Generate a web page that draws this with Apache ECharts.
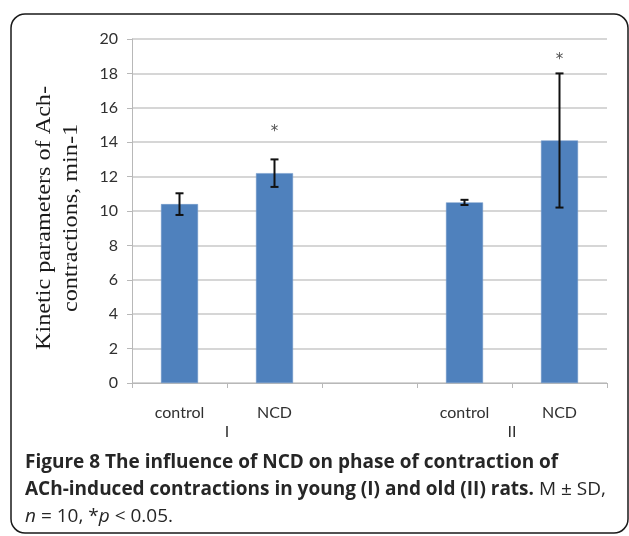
<!DOCTYPE html>
<html>
<head>
<meta charset="utf-8">
<script src="https://cdn.jsdelivr.net/npm/echarts@6/dist/echarts.min.js"></script>
<style>html,body{margin:0;padding:0;background:#fff;}#c{width:629px;height:536px;}</style>
</head>
<body>
<div id="c"></div>
<script>
const categories = ['control', 'NCD', '', 'control', 'NCD'];
const groupLabels = ['', 'I', '', '', 'II', ''];
const means = [10.4, 12.2, null, 10.5, 14.1];
const sd = [0.63, 0.8, null, 0.15, 3.9];
const starValues = [null, 14.6, null, null, 18.8];
const yTicks = [0, 2, 4, 6, 8, 10, 12, 14, 16, 18, 20];

const errData = means.map((m, i) => m == null ? null : [i, m - sd[i], m + sd[i]]).filter(d => d);
const starData = starValues.map((v, i) => v == null ? null : [i, v]).filter(d => d);

const chart = echarts.init(document.getElementById('c'));
const tickFont = 'Lato, "Open Sans", sans-serif';
chart.setOption({
  animation: false,
  grid: { left: 132, right: 22, top: 39, bottom: 153 },
  xAxis: [{
    type: 'category',
    data: categories,
    axisLine: { lineStyle: { color: '#b8b8b8', width: 1 } },
    axisTick: { show: true, length: 5, lineStyle: { color: '#b8b8b8' } },
    axisLabel: { color: '#303030', fontFamily: tickFont, fontSize: 16, margin: 22, interval: 0 }
  }, {
    type: 'value',
    min: 0, max: 5, interval: 1,
    position: 'bottom',
    axisLine: { show: false },
    axisTick: { show: false },
    splitLine: { show: false },
    axisLabel: { color: '#303030', fontFamily: tickFont, fontSize: 16, margin: 41,
      formatter: v => groupLabels[v] || '' }
  }],
  yAxis: {
    type: 'value',
    min: yTicks[0], max: yTicks[yTicks.length - 1], interval: 2,
    axisLine: { show: true, lineStyle: { color: '#b8b8b8', width: 1 } },
    axisTick: { show: true, length: 5, lineStyle: { color: '#b8b8b8' } },
    splitLine: { lineStyle: { color: '#c8c8c8', width: 1.5 } },
    axisLabel: { color: '#303030', fontFamily: tickFont, fontSize: 16, margin: 14 }
  },
  series: [{
    type: 'bar',
    data: means,
    barWidth: 37,
    itemStyle: { color: '#4f81bd', borderColor: '#6f97c9', borderWidth: 0.5 },
    xAxisIndex: 0
  }, {
    type: 'custom',
    xAxisIndex: 0,
    data: errData,
    z: 5,
    renderItem: (params, api) => {
      const lo = api.coord([api.value(0), api.value(1)]);
      const hi = api.coord([api.value(0), api.value(2)]);
      const x = lo[0], w = 4;
      const st = { stroke: '#111', lineWidth: 2 };
      return { type: 'group', children: [
        { type: 'line', shape: { x1: x, y1: lo[1], x2: x, y2: hi[1] }, style: st },
        { type: 'line', shape: { x1: x - w, y1: lo[1], x2: x + w, y2: lo[1] }, style: st },
        { type: 'line', shape: { x1: x - w, y1: hi[1], x2: x + w, y2: hi[1] }, style: st }
      ]};
    }
  }, {
    type: 'custom',
    xAxisIndex: 0,
    data: starData,
    z: 5,
    renderItem: (params, api) => {
      const p = api.coord([api.value(0), api.value(1)]);
      return { type: 'text', x: p[0], y: p[1], style: { text: '*', align: 'center', verticalAlign: 'middle',
        font: '15px "DejaVu Sans", sans-serif', fill: '#505050' } };
    }
  }],
  graphic: [{
    type: 'rect',
    shape: { x: 11, y: 14, width: 617, height: 519, r: 14 },
    style: { fill: 'none', stroke: '#1a1a1a', lineWidth: 1.5 },
    silent: true
  }, {
    type: 'text',
    x: 58, y: 218,
    rotation: Math.PI / 2,
    scaleX: 1.1,
    style: {
      text: 'Kinetic parameters of Ach-\ncontractions, min-1',
      font: '22px "Liberation Serif", "Times New Roman", serif',
      fill: '#1a1a1a', align: 'center', verticalAlign: 'middle', lineHeight: 27
    }
  }, {
    type: 'text',
    x: 25, y: 449,
    style: {
      text: '{b|Figure 8 The influence of NCD on phase of contraction of}\n{b|ACh-induced contractions in young (I) and old (II) rats.}{r| M ± SD,}\n{i|n}{r| = 10, *}{i|p}{r| < 0.05.}',
      rich: {
        b: { font: 'bold 19px "Open Sans", sans-serif', fill: '#262626', lineHeight: 27 },
        r: { font: '19px "Open Sans", sans-serif', fill: '#262626', lineHeight: 27 },
        i: { font: 'italic 19px "Open Sans", sans-serif', fill: '#262626', lineHeight: 27 }
      }
    }
  }]
});
</script>
</body>
</html>
